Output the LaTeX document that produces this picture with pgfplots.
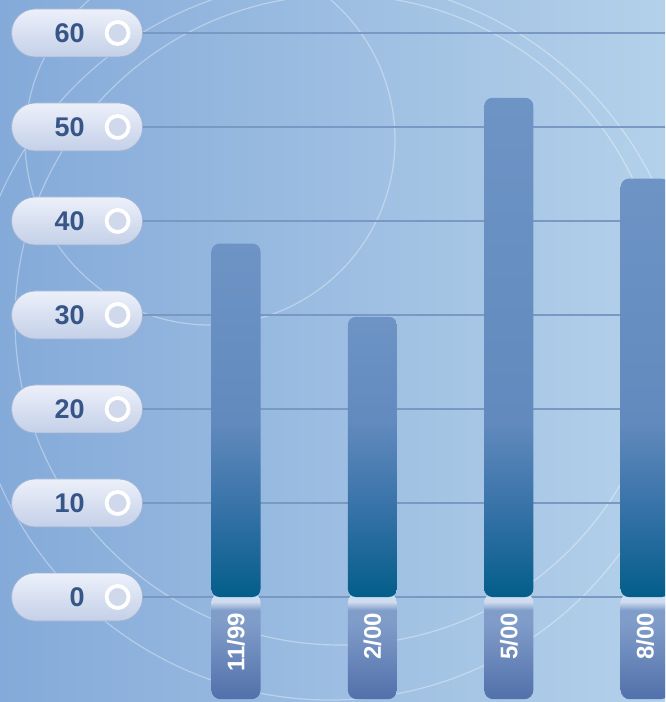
\documentclass[border=0pt]{standalone}
\usepackage{pgfplots}
\pgfplotsset{compat=1.18}
\usepackage{fontspec}
\setmainfont{Liberation Sans}
\definecolor{bgL}{RGB}{132,170,217}
\definecolor{bgR}{RGB}{180,209,234}
\definecolor{gridc}{RGB}{122,152,196}
\definecolor{barD}{RGB}{3,94,138}
\definecolor{barM}{RGB}{50,112,165}
\definecolor{barL}{RGB}{98,138,190}
\definecolor{barT}{RGB}{110,148,197}
\definecolor{tabL}{RGB}{208,220,240}
\definecolor{tabM}{RGB}{128,157,202}
\definecolor{tabD}{RGB}{82,112,170}
\definecolor{pillT}{RGB}{236,240,250}
\definecolor{pillB}{RGB}{196,208,232}
\definecolor{pillE}{RGB}{160,178,210}
\definecolor{pilltext}{RGB}{55,86,135}
\definecolor{ringin}{RGB}{208,216,236}
\pgfdeclareverticalshading{barA}{100bp}{color(0bp)=(barD); color(25bp)=(barD); color(36.3bp)=(barM); color(49.8bp)=(barL); color(75bp)=(barT); color(100bp)=(barT)}
\pgfdeclareverticalshading{barB}{100bp}{color(0bp)=(barD); color(25bp)=(barD); color(39.3bp)=(barM); color(56.3bp)=(barL); color(75bp)=(barT); color(100bp)=(barT)}
\pgfdeclareverticalshading{barC}{100bp}{color(0bp)=(barD); color(25bp)=(barD); color(33.0bp)=(barM); color(42.5bp)=(barL); color(75bp)=(barT); color(100bp)=(barT)}
\pgfdeclareverticalshading{barE}{100bp}{color(0bp)=(barD); color(25bp)=(barD); color(34.6bp)=(barM); color(45.9bp)=(barL); color(75bp)=(barT); color(100bp)=(barT)}
\pgfdeclareverticalshading{tabshade}{100bp}{color(0bp)=(tabD); color(25bp)=(tabD); color(62bp)=(tabM); color(67bp)=(tabM); color(71bp)=(tabL); color(100bp)=(tabL)}
\newcommand{\pill}[1]{\makebox[131pt][l]{\makebox[73pt][r]{#1}}}
\begin{document}
\begin{tikzpicture}
\useasboundingbox (0pt,-105pt) rectangle (665pt,597pt);
\clip (0pt,-105pt) rectangle (665pt,597pt);
\fill[left color=bgL, right color=bgR] (0pt,-105pt) rectangle (665pt,597pt);
\begin{scope}[white, opacity=0.35, line width=1.2pt]
\draw (210pt,457pt) circle (185pt);
\draw (340pt,277pt) circle (325pt);
\draw (330pt,257pt) circle (360pt);
\end{scope}
\begin{axis}[
  at={(130pt,0pt)}, anchor=south west,
  scale only axis,
  width=535pt, height=597pt,
  xmin=-0.7771, xmax=3.145,
  ymin=0, ymax=63.51,
  axis line style={draw=none},
  tick style={draw=none},
  major tick length=0pt,
  ymajorgrids,
  major grid style={draw=gridc, line width=1.5pt},
  ytick={0,10,20,30,40,50,60},
  yticklabels={{\pill{0}},{\pill{10}},{\pill{20}},{\pill{30}},{\pill{40}},{\pill{50}},{\pill{60}}},
  yticklabel shift=-13pt,
  yticklabel style={anchor=east, inner sep=0pt, minimum height=48pt,
    rounded corners=23.5pt, top color=pillT, bottom color=pillB, draw=pillE, line width=0.8pt,
    text=pilltext, font=\fontsize{27}{29}\selectfont\bfseries,
    path picture={
      \fill[ringin] ([xshift=-25pt]path picture bounding box.east) circle (11pt);
      \draw[white, line width=3.8pt] ([xshift=-25pt]path picture bounding box.east) circle (11pt);
    }},
  xtick={0,1,2,3},
  xticklabels={11/99,2/00,5/00,8/00},
  xticklabel shift=-4pt,
  xticklabel style={rotate=90, anchor=east, text width=66pt, align=right,
    inner xsep=20pt, inner ysep=0pt, minimum height=49pt,
    shading=tabshade, rounded corners=9pt, text=white,
    font=\fontsize{24}{26}\selectfont\bfseries},
]
\addplot[ybar, bar width=49pt, bar shift=0pt, draw=none, shading=barA, rounded corners=8pt] coordinates {(0,37.6)};
\addplot[ybar, bar width=49pt, bar shift=0pt, draw=none, shading=barB, rounded corners=8pt] coordinates {(1,29.8)};
\addplot[ybar, bar width=49pt, bar shift=0pt, draw=none, shading=barC, rounded corners=8pt] coordinates {(2,53.1)};
\addplot[ybar, bar width=49pt, bar shift=0pt, draw=none, shading=barE, rounded corners=8pt] coordinates {(3,44.5)};
\end{axis}
\end{tikzpicture}
\end{document}
